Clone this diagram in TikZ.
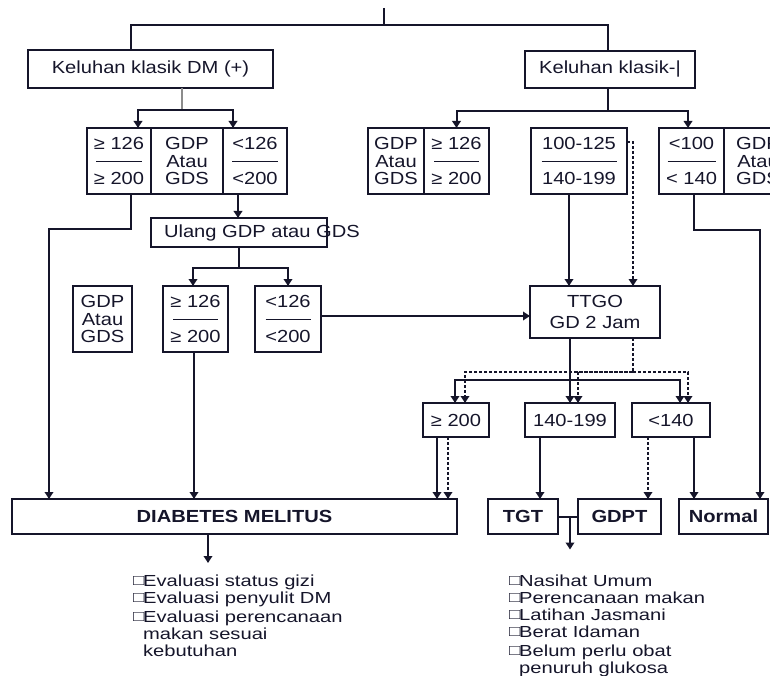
\documentclass[tikz,border=0pt]{standalone}
\usepackage{fontspec}
\setmainfont{Liberation Sans}[FakeStretch=1.15]
\newfontfamily\listfont{Liberation Sans}[FakeStretch=1.26]
\usetikzlibrary{arrows.meta,calc}
\definecolor{flowInk}{HTML}{15152a}
\definecolor{flowGrey}{HTML}{8c8c8c}
% two values over a rule, as in the cells
\newcommand{\ratio}[3][46pt]{#2\\\rule[5pt]{#1}{1.4pt}\\#3}
% small tick box in front of the advice lines
\newcommand{\chk}{\raisebox{1.5pt}{\fontsize{15}{15}\selectfont □}\kern-1.5pt}
\tikzset{
  >={Triangle[length=7pt,width=8.5pt]},
  box/.style={draw=flowInk, line width=2pt, inner sep=0pt, outer sep=0pt,
              align=center, text=flowInk, font=\fontsize{17.5}{17.5}\selectfont},
  boldbox/.style={box, font=\fontsize{17.5}{17.5}\selectfont\bfseries},
  sz/.style 2 args={minimum width=#1pt, minimum height=#2pt},
  wire/.style={draw=flowInk, line width=2pt},
  arr/.style={wire, ->},
  darr/.style={->, draw=flowInk, line width=2pt, dash pattern=on 3pt off 2pt},
  note/.style={anchor=north west, align=left, inner sep=0pt, text=flowInk,
              font=\listfont\fontsize{16}{17}\selectfont},
}

\begin{document}
\begin{tikzpicture}[x=1pt,y=-1pt]
  \useasboundingbox (0,0) rectangle (770,676);

  % first split
  \coordinate (top) at (384,8);
  \node[box,sz={245}{38}] (kDM) at (150.5,69) {Keluhan klasik DM (+)};
  \node[box,sz={170}{37}] (kNeg) at (610,69.5) {Keluhan klasik-|};

  % left branch, first test
  \node[box,sz={64}{66}] (a1) at (119,161) {\ratio{≥ 126}{≥ 200}};
  \node[box,sz={72}{66}] (a2) at (187,161) {GDP\\Atau\\GDS};
  \node[box,sz={64}{66}] (a3) at (255,161) {\ratio{<126}{<200}};
  \node[box,sz={176}{29}] (ulang) at (239,232.5) {\makebox[150pt][l]{Ulang GDP atau GDS}};

  % left branch, repeat test
  \node[box,sz={59}{66}] (d1) at (102.5,319) {GDP\\Atau\\GDS};
  \node[box,sz={65}{66}] (d2) at (195.5,319) {\ratio[45pt]{≥ 126}{≥ 200}};
  \node[box,sz={66}{66}] (d3) at (288,319) {\ratio[45pt]{<126}{<200}};

  % right branch
  \node[box,sz={56}{66}] (b1) at (396,161) {GDP\\Atau\\GDS};
  \node[box,sz={65}{66}] (b2) at (456.5,161) {\ratio[45pt]{≥ 126}{≥ 200}};
  \node[box,sz={96}{66}] (b3) at (579,161) {\ratio[75pt]{100-125}{140-199}};
  \node[box,sz={65}{66}] (b4) at (691.5,161) {\ratio[48pt]{<100}{< 140}};
  \node[box,sz={68}{66}] (b5) at (758,161) {GDP\\Atau\\GDS};

  \node[box,sz={130}{52}] (ttgo) at (595,312) {TTGO\\[3pt]GD 2 Jam};
  \node[box,sz={66}{34}] (e1) at (456,420) {≥ 200};
  \node[box,sz={90}{34}] (e2) at (570,420) {140-199};
  \node[box,sz={78}{34}] (e3) at (671,420) {<140};

  % outcomes
  \node[boldbox,sz={445}{35}] (dm) at (234.5,516.5) {DIABETES MELITUS};
  \node[boldbox,sz={70}{35}] (tgt) at (523,516.5) {TGT};
  \node[boldbox,sz={83}{35}] (gdpt) at (619.5,516.5) {GDPT};
  \node[boldbox,sz={89}{35}] (normal) at (723.5,516.5) {Normal};

  \node[note] (todoDM) at (133,575) {\chk Evaluasi status gizi\\\chk Evaluasi penyulit DM\\[2pt]
    \chk Evaluasi perencanaan\\\phantom{\chk}makan sesuai\\\phantom{\chk}kebutuhan};
  \node[note] (todoTGT) at (509,575) {\chk Nasihat Umum\\\chk Perencanaan makan\\\chk Latihan Jasmani\\
    \chk Berat Idaman\\[2pt]\chk Belum perlu obat\\\phantom{\chk}penuruh glukosa};

  % connectors
  \draw[wire] (top) -- ++(0,17) coordinate (tbar) -| ([xshift=-19.5pt]kDM.north);
  \draw[wire] (tbar) -| ([xshift=-2pt]kNeg.north);

  \draw[draw=flowGrey,line width=1.3pt] ([xshift=31.5pt]kDM.south) -- ++(0,22) coordinate (sp1);
  \draw[arr] (sp1) -| ([xshift=19pt]a1.north);
  \draw[arr] (sp1) -| ([xshift=-22pt]a3.north);
  \draw[arr] ([xshift=12pt]a1.south) -- ++(0,35) -| ([xshift=-185.5pt]dm.north);
  \draw[arr] ([xshift=-17pt]a3.south) -- ([xshift=-1pt]ulang.north);

  \draw[wire] (ulang.south) -- ++(0,21) coordinate (sp2);
  \draw[arr] (sp2) -| ([xshift=-2.5pt]d2.north);
  \draw[arr] (sp2) -| (d3.north);
  \draw[arr] ([yshift=3pt]d3.east) -- ([yshift=3pt]d3.east -| ttgo.west);
  \draw[arr] ([xshift=-1.5pt]d2.south) -- ([xshift=-1.5pt]d2.south |- dm.north);

  \draw[wire] ([xshift=-2pt]kNeg.south) -- ++(0,23) coordinate (sp3);
  \draw[arr] (sp3) -| (b2.north);
  \draw[arr] (sp3) -| ([xshift=-3.5pt]b4.north);
  \draw[arr] ([xshift=-10pt]b3.south) -- ([xshift=-10pt]b3.south |- ttgo.north);
  \draw[darr] ([yshift=-14pt]b3.north east) -| ([xshift=38pt]ttgo.north);
  \draw[arr] ([xshift=2.5pt]b4.south) -- ++(0,36) -| ([xshift=36.5pt]normal.north);

  \draw[arr] ([xshift=-25pt]ttgo.south) -- ++(0,42) coordinate (sp4) -- (e2.north);
  \draw[arr] (sp4) -| ([xshift=-1pt]e1.north);
  \draw[arr] (sp4) -| ([xshift=9pt]e3.north);
  \draw[darr] ([xshift=38pt]ttgo.south) -- ++(0,34) coordinate (sp5) -| ([xshift=9pt]e1.north);
  \draw[darr] (sp5) -| ([xshift=8pt]e2.north);
  \draw[darr] (sp5) -| ([xshift=17pt]e3.north);

  \draw[arr] ([xshift=-19pt]e1.south) -- ([xshift=-19pt]e1.south |- dm.north);
  \draw[darr] ([xshift=-8pt]e1.south) -- ([xshift=-8pt]e1.south |- dm.north);
  \draw[arr] ([xshift=-30pt]e2.south) -- ([xshift=-30pt]e2.south |- tgt.north);
  \draw[darr] ([xshift=-23pt]e3.south) -- ([xshift=-23pt]e3.south |- gdpt.north);
  \draw[arr] ([xshift=23pt]e3.south) -- ([xshift=23pt]e3.south |- normal.north);

  \draw[wire] (tgt.east) -- coordinate[pos=0.6] (mid) (gdpt.west);
  \draw[arr] (mid) -- ++(0,33);
  \draw[arr] ([xshift=-26.5pt]dm.south) -- ++(0,29);
\end{tikzpicture}
\end{document}
